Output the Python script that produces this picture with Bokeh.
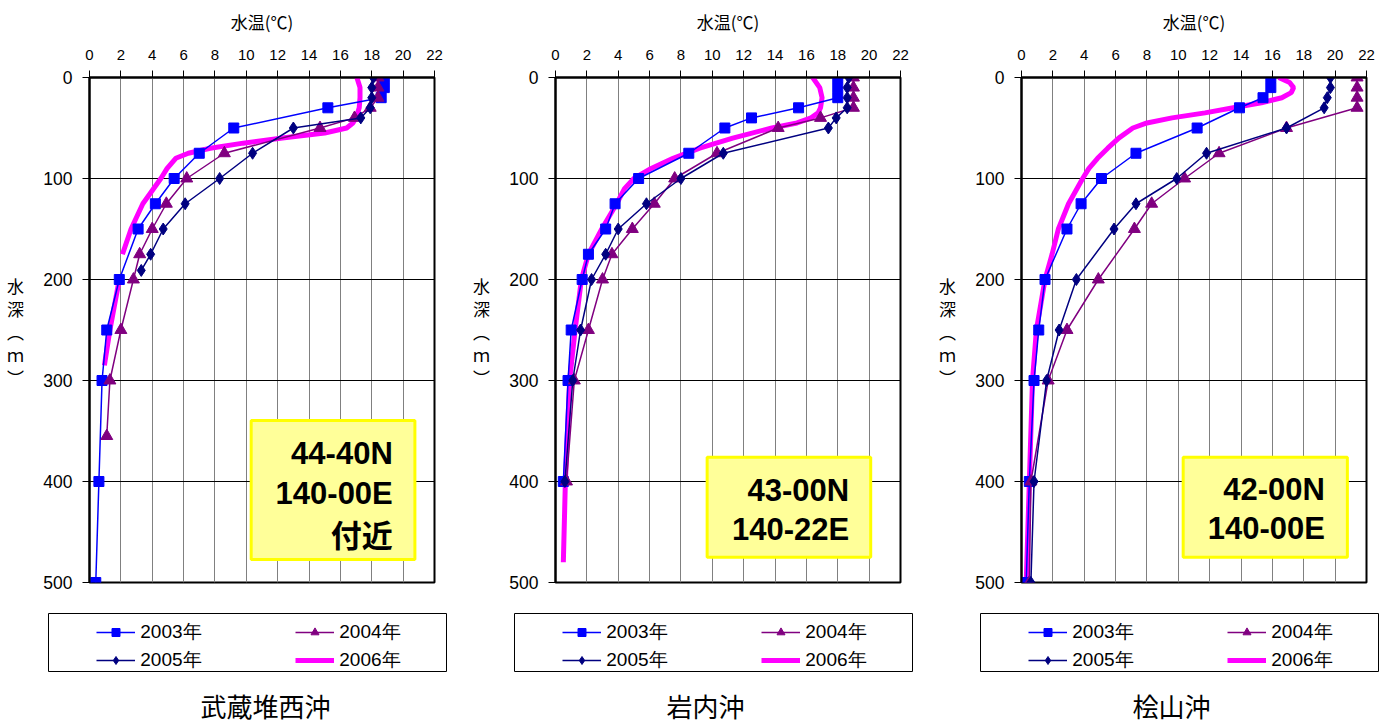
from bokeh.plotting import figure
from bokeh.models import (Range1d, FixedTicker, Legend, LegendItem, Label, BoxAnnotation, Title, Spacer)
from bokeh.layouts import row, column
from bokeh.embed import file_html
from bokeh.resources import INLINE

NaN = float("nan")

# ---------------- data ----------------
x_ticks = [0, 2, 4, 6, 8, 10, 12, 14, 16, 18, 20, 22]
y_ticks = [0, 100, 200, 300, 400, 500]
series_names = ["2003年", "2004年", "2005年", "2006年"]
station_names = ["武蔵堆西沖", "岩内沖", "桧山沖"]
box_texts = [["44-40N", "140-00E", "付近"], ["43-00N", "140-22E"], ["42-00N", "140-00E"]]
depth_title = ["水", "深", "︵", "ｍ", "︶"]

# 武蔵堆西沖
d03_1 = [0, 10, 20, 30, 50, 75, 100, 125, 150, 200, 250, 300, 400, 500]
t03_1 = [18.8, 18.8, 18.6, 15.2, 9.2, 7.0, 5.4, 4.2, 3.1, 1.9, 1.1, 0.8, 0.6, 0.4]
d04_1 = [0, 10, 20, 30, 40, 50, 75, 100, 125, 150, 175, 200, 250, 300, 355]
t04_1 = [18.4, 18.4, 18.4, 17.9, 16.9, 14.7, 8.6, 6.2, 4.9, 4.0, 3.2, 2.8, 2.0, 1.3, 1.1]
d05_1 = [0, 10, 20, 30, 40, 50, 75, 100, 125, 150, 175, 191]
t05_1 = [18.1, 18.0, 18.0, 17.9, 17.3, 13.0, 10.4, 8.3, 6.1, 4.7, 3.9, 3.3]
d06_1 = [0, 10, 20, 30, 40, 45, 50, 55, 60, 65, 70, 75, 80, 90, 100, 125, 150, 175, NaN, 200, 250, 285]
t06_1 = [17.05, 17.25, 17.25, 17.2, 17.0, 16.8, 16.4, 15.0, 12.3, 9.8, 7.7, 6.3, 5.5, 4.95, 4.55, 3.4, 2.65, 2.1, NaN, 1.9, 1.3, 0.95]

# 岩内沖
d03_2 = [0, 10, 20, 30, 40, 50, 75, 100, 125, 150, 175, 200, 250, 300, 400]
t03_2 = [18.0, 18.0, 18.0, 15.5, 12.5, 10.8, 8.5, 5.3, 3.8, 3.2, 2.1, 1.7, 1.0, 0.8, 0.5]
d04_2 = [0, 10, 20, 30, 40, 50, 75, 100, 125, 150, 175, 200, 250, 300, 400]
t04_2 = [19.0, 19.0, 19.0, 19.0, 16.9, 14.2, 10.3, 7.6, 6.3, 4.9, 3.6, 3.0, 2.1, 1.2, 0.7]
d05_2 = [0, 10, 20, 30, 40, 50, 75, 100, 125, 150, 175, 200, 250, 300, 400]
t05_2 = [18.7, 18.6, 18.6, 18.6, 17.9, 17.4, 10.7, 8.0, 5.8, 4.0, 3.2, 2.3, 1.6, 1.1, 0.6]
d06_2 = [0, 10, 20, 30, 35, 40, 45, 50, 60, 70, 80, 90, 100, 110, 125, 150, 175, 200, 250, 300, 400, 480]
t06_2 = [16.4, 16.85, 17.0, 16.9, 16.75, 16.3, 15.4, 13.8, 11.3, 9.2, 7.5, 6.1, 5.0, 4.4, 3.9, 2.95, 2.1, 1.65, 1.25, 0.9, 0.63, 0.5]

# 桧山沖
d03_3 = [0, 10, 20, 30, 50, 75, 100, 125, 150, 200, 250, 300, 400, 500]
t03_3 = [15.9, 15.9, 15.4, 13.9, 11.2, 7.3, 5.1, 3.8, 2.9, 1.5, 1.1, 0.8, 0.5, 0.3]
d04_3 = [0, 10, 20, 30, 50, 75, 100, 125, 150, 200, 250, 300, 400, 500]
t04_3 = [21.4, 21.4, 21.4, 21.4, 16.9, 12.6, 10.4, 8.3, 7.2, 4.9, 2.9, 1.7, 0.6, 0.5]
d05_3 = [0, 10, 20, 30, 50, 75, 100, 125, 150, 200, 250, 300, 400, 500]
t05_3 = [19.7, 19.7, 19.5, 19.3, 16.9, 11.8, 9.9, 7.3, 5.9, 3.5, 2.4, 1.6, 0.8, 0.6]
d06_3 = [0, 5, 10, 15, 20, 25, 30, 35, 40, 45, 50, 60, 70, 80, 90, 100, 125, 150, 175, 200, 250, 300, 400, 500]
t06_3 = [16.4, 17.1, 17.35, 17.2, 16.6, 15.3, 13.5, 11.7, 9.6, 8.0, 7.1, 6.2, 5.5, 4.85, 4.3, 3.9, 3.0, 2.35, 1.95, 1.5, 0.95, 0.7, 0.5, 0.3]

panels = [
    (d03_1, t03_1, d04_1, t04_1, d05_1, t05_1, d06_1, t06_1),
    (d03_2, t03_2, d04_2, t04_2, d05_2, t05_2, d06_2, t06_2),
    (d03_3, t03_3, d04_3, t04_3, d05_3, t05_3, d06_3, t06_3),
]

# ---------------- styling / layout ----------------
JP = "Noto Sans CJK JP"
LAT = "Liberation Sans"
C03, C04, C05, C06 = "#0000FF", "#800080", "#000080", "#FF00FF"
STYLE = {
    "03": dict(color=C03, lw=1.5, marker="square", size=10),
    "04": dict(color=C04, lw=1.5, marker="triangle", size=12),
    "05": dict(color=C05, lw=1.5, marker="diamond", size=12),
    "06": dict(color=C06, lw=5, marker=None, size=0),
}

box_ext = [(10.31, 20.75, 339.6, 477.2), (9.67, 20.1, 375.9, 475.0), (10.31, 20.78, 375.9, 475.0)]
box_text_x = [19.34, 18.73, 19.35]
box_text_y = [[372.0, 412.0, 451.5], [409.0, 447.5], [408.0, 446.5]]
LAB_W = 40
TOP_H = 613
FRAME_BOTTOM = 582


def main_plot(i):
    d03, t03, d04, t04, d05, t05, d06, t06 = panels[i]
    w = (454 if i == 2 else 466) - LAB_W
    p = figure(width=w, height=TOP_H, output_backend="svg", toolbar_location=None,
               x_range=Range1d(0, 22), y_range=Range1d(500, 0),
               x_axis_location="above", min_border_left=87 - LAB_W,
               min_border_right=w - (87 - LAB_W) - 347, min_border_top=77,
               min_border_bottom=TOP_H - FRAME_BOTTOM)
    p.background_fill_color = "white"
    p.border_fill_color = "white"
    p.outline_line_color = "black"
    p.outline_line_width = 2

    p.xaxis.ticker = FixedTicker(ticks=x_ticks)
    p.yaxis.ticker = FixedTicker(ticks=y_ticks)
    for ax in (p.xaxis[0], p.yaxis[0]):
        ax.axis_line_color = "black"
        ax.axis_line_width = 2
        ax.major_tick_line_color = "black"
        ax.major_tick_in = 0
        ax.major_tick_out = 7
        ax.minor_tick_line_color = None
        ax.major_label_text_font = LAT
        ax.major_label_text_color = "black"
    p.xaxis.major_label_text_font_size = "15px"
    p.yaxis.major_label_text_font_size = "17.5px"
    p.xaxis.major_label_standoff = 11
    p.yaxis.major_label_standoff = 10
    p.xaxis.axis_label = "水温(℃)"
    p.xaxis.axis_label_text_font = JP
    p.xaxis.axis_label_text_font_size = "17px"
    p.xaxis.axis_label_text_font_style = "normal"
    p.xaxis.axis_label_text_color = "black"
    p.xaxis.axis_label_standoff = 13

    p.xgrid.ticker = FixedTicker(ticks=x_ticks)
    p.ygrid.ticker = FixedTicker(ticks=y_ticks)
    p.xgrid.grid_line_color = "#808080"
    p.ygrid.grid_line_color = "black"

    l, r, t, b = box_ext[i]
    p.add_layout(BoxAnnotation(left=l, right=r, top=t, bottom=b,
                               fill_color="#FFFF99", fill_alpha=1.0,
                               line_color="#FFFF00", line_width=3, line_alpha=1.0))
    for txt, ty in zip(box_texts[i], box_text_y[i]):
        font = JP if any(ord(c) > 255 for c in txt) else LAT
        p.add_layout(Label(x=box_text_x[i], y=ty, text=txt, text_align="right",
                           text_baseline="middle", text_font=font,
                           text_font_size="31px", text_font_style="bold",
                           text_color="black"))

    s = STYLE["06"]
    p.line(t06, d06, line_color=s["color"], line_width=s["lw"])
    for key, tt, dd in (("03", t03, d03), ("04", t04, d04), ("05", t05, d05)):
        s = STYLE[key]
        p.line(tt, dd, line_color=s["color"], line_width=s["lw"])
        p.scatter(tt, dd, marker=s["marker"], size=s["size"], color=s["color"])
    return p


def label_plot():
    # its frame is aligned by the row layout with the main plot's frame (77 .. 582)
    p = figure(width=LAB_W, height=TOP_H, output_backend="svg", toolbar_location=None,
               x_axis_type=None, y_axis_type=None, min_border=0, title=None)
    p.outline_line_color = None
    p.grid.visible = False
    for k, ch in enumerate(depth_title):
        p.add_layout(Label(x=15, y=FRAME_BOTTOM - (285 + 23 * k), x_units="screen", y_units="screen",
                           text=ch, text_align="center", text_baseline="middle",
                           text_font=JP, text_font_size="17px", text_color="black"))
    return p


def legend_plot(i):
    p = figure(frame_width=399, frame_height=58, output_backend="svg", toolbar_location=None,
               x_axis_type=None, y_axis_type=None, min_border=0, title=None)
    p.outline_line_color = "black"
    p.outline_line_width = 1
    p.grid.visible = False
    items = []
    for key, name in zip(["03", "04", "05", "06"], series_names):
        s = STYLE[key]
        rs = [p.line([NaN], [NaN], line_color=s["color"], line_width=s["lw"])]
        if s["marker"]:
            rs.append(p.scatter([NaN], [NaN], marker=s["marker"], size=s["size"], color=s["color"]))
        items.append(LegendItem(label=name, renderers=rs))
    leg = Legend(items=items, location=(48.3, -1.8), orientation="horizontal", ncols=2,
                 padding=0, margin=0, spacing=2, glyph_width=39, glyph_height=20,
                 label_width=153, label_height=20, label_standoff=5,
                 border_line_alpha=0, background_fill_alpha=0,
                 label_text_font=LAT, label_text_font_size="19px", label_text_color="black")
    p.add_layout(leg)
    p.add_layout(Title(text=station_names[i], align="left", offset=152,
                       text_font=JP, text_font_size="26px", text_font_style="normal",
                       text_color="black", standoff=27), "below")
    return p


cols = []
for i in range(3):
    top = row(label_plot(), main_plot(i), spacing=0)
    bottom = row(Spacer(width=48, height=10), legend_plot(i), spacing=0)
    cols.append(column(top, bottom, spacing=0))

layout = row(*cols, spacing=0)
open("out.html", "w").write(file_html(layout, INLINE))
